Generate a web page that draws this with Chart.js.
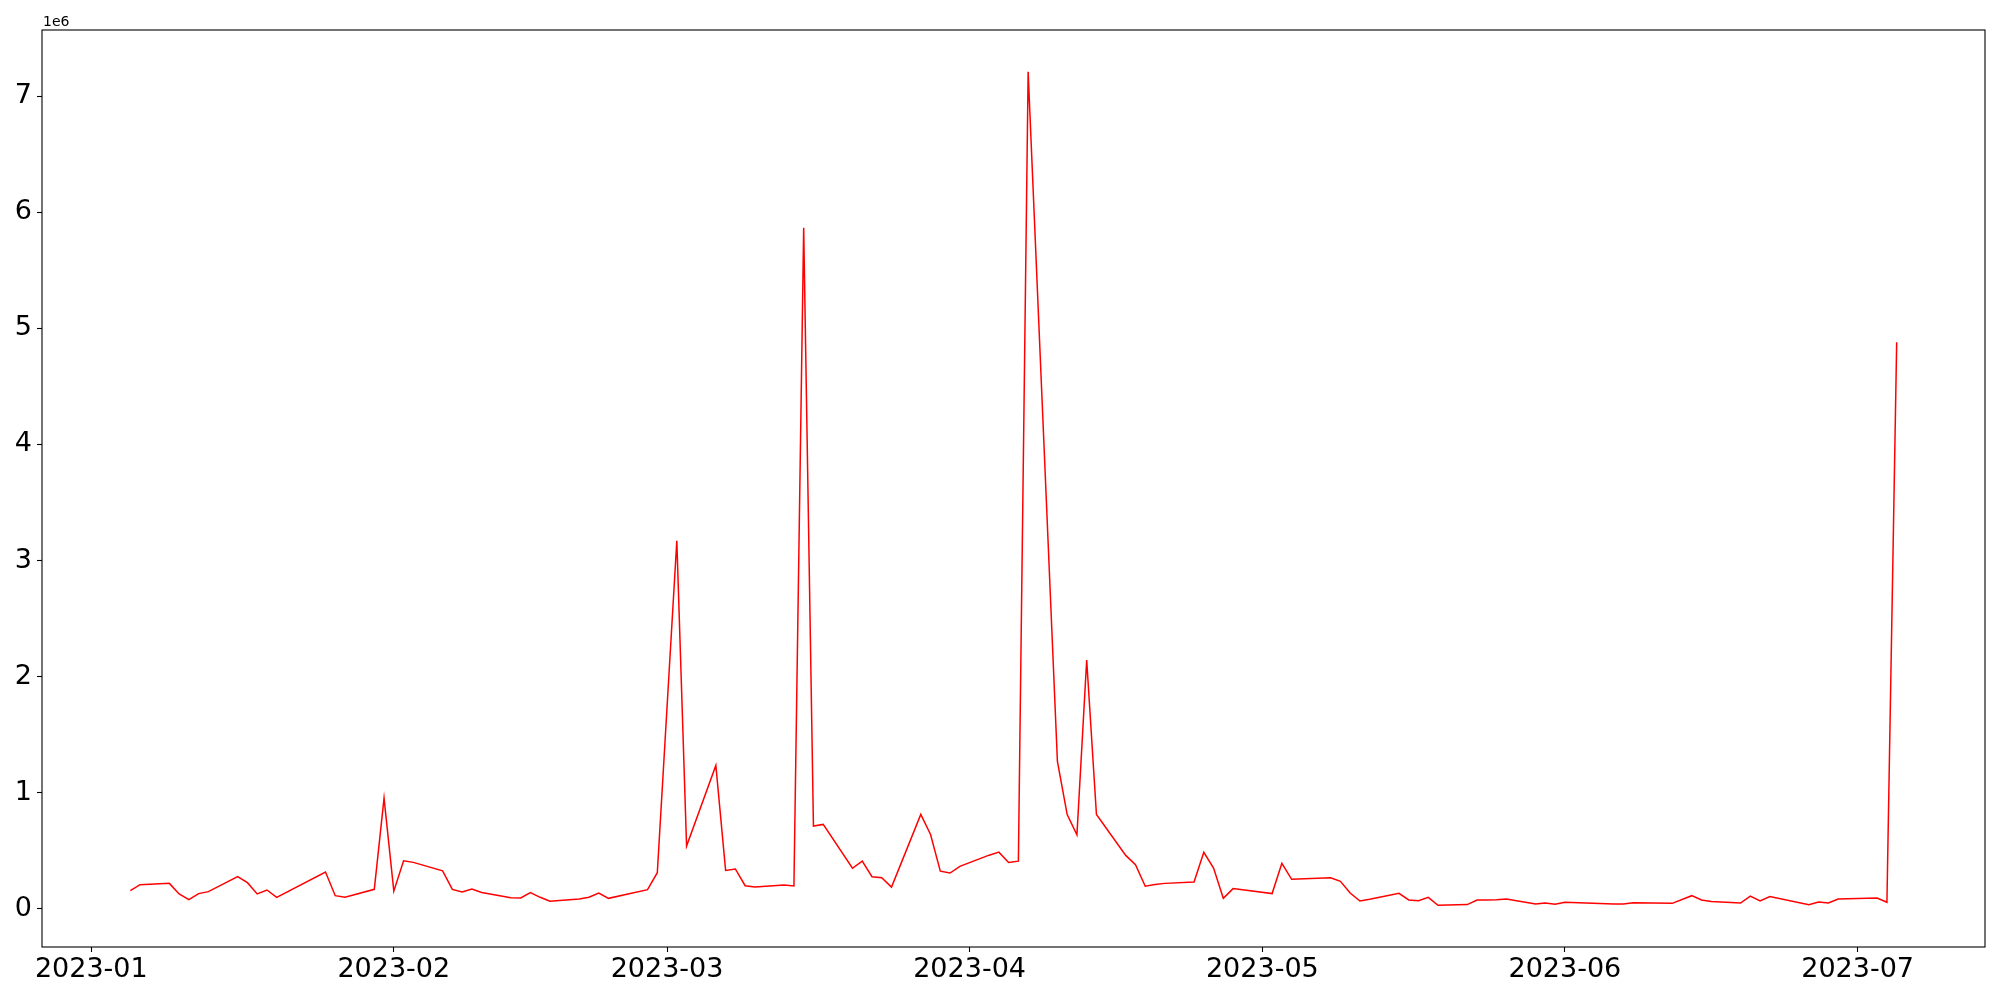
<!DOCTYPE html>
<html>
<head>
<meta charset="utf-8">
<script src="https://cdn.jsdelivr.net/npm/chart.js@4.4.0/dist/chart.umd.min.js"></script>
<style>
  html, body { margin: 0; padding: 0; background: #fff; }
  #wrap { width: 2000px; height: 1000px; }
</style>
</head>
<body>
<div id="wrap"><canvas id="lineChart" width="2000" height="1000"></canvas></div>
<script>
// dates of each reading and the values (raw units, axis shows 1e6)
const dates = [
  '2023-01-05','2023-01-06','2023-01-09','2023-01-10','2023-01-11','2023-01-12','2023-01-13',
  '2023-01-16','2023-01-17','2023-01-18','2023-01-19','2023-01-20','2023-01-25','2023-01-26',
  '2023-01-27','2023-01-30','2023-01-31','2023-02-01','2023-02-02','2023-02-03','2023-02-06',
  '2023-02-07','2023-02-08','2023-02-09','2023-02-10','2023-02-13','2023-02-14','2023-02-15',
  '2023-02-16','2023-02-17','2023-02-20','2023-02-21','2023-02-22','2023-02-23','2023-02-27',
  '2023-02-28','2023-03-02','2023-03-03','2023-03-06','2023-03-07','2023-03-08','2023-03-09',
  '2023-03-10','2023-03-13','2023-03-14','2023-03-15','2023-03-16','2023-03-17','2023-03-20',
  '2023-03-21','2023-03-22','2023-03-23','2023-03-24','2023-03-27','2023-03-28','2023-03-29',
  '2023-03-30','2023-03-31','2023-04-03','2023-04-04','2023-04-05','2023-04-06','2023-04-07',
  '2023-04-10','2023-04-11','2023-04-12','2023-04-13','2023-04-14','2023-04-17','2023-04-18',
  '2023-04-19','2023-04-20','2023-04-21','2023-04-24','2023-04-25','2023-04-26','2023-04-27',
  '2023-04-28','2023-05-02','2023-05-03','2023-05-04','2023-05-08','2023-05-09','2023-05-10',
  '2023-05-11','2023-05-12','2023-05-15','2023-05-16','2023-05-17','2023-05-18','2023-05-19',
  '2023-05-22','2023-05-23','2023-05-24','2023-05-25','2023-05-26','2023-05-29','2023-05-30',
  '2023-05-31','2023-06-01','2023-06-06','2023-06-07','2023-06-08','2023-06-12','2023-06-14',
  '2023-06-15','2023-06-16','2023-06-19','2023-06-20','2023-06-21','2023-06-22','2023-06-26',
  '2023-06-27','2023-06-28','2023-06-29','2023-07-03','2023-07-04','2023-07-05'
];
const values = [
  157000, 208000, 219000, 128000, 79000, 131000, 148000,
  277000, 225000, 128000, 162000, 99000, 317000, 113000,
  99000, 168000, 953000, 152000, 413000, 400000, 327000,
  167000, 145000, 171000, 140000, 95000, 93000, 139000,
  99000, 65000, 84000, 99000, 136000, 90000, 165000,
  311000, 3170000, 541000, 1235000, 331000, 343000, 199000,
  188000, 205000, 197000, 5866000, 713000, 727000, 349000,
  410000, 276000, 267000, 187000, 813000, 640000, 324000,
  308000, 365000, 462000, 488000, 399000, 410000, 7210000,
  1270000, 812000, 637000, 2143000, 812000, 460000, 380000,
  194000, 210000, 219000, 231000, 486000, 351000, 90000,
  174000, 131000, 392000, 254000, 268000, 237000, 136000,
  67000, 82000, 133000, 76000, 70000, 99000, 30000,
  36000, 76000, 76000, 78000, 84000, 41000, 50000,
  39000, 56000, 41000, 41000, 53000, 47000, 113000,
  76000, 62000, 50000, 110000, 67000, 105000, 36000,
  59000, 50000, 84000, 93000, 56000, 4880000
];
const monthTicks = ['2023-01','2023-02','2023-03','2023-04','2023-05','2023-06','2023-07'];
const yTicks = [0, 1, 2, 3, 4, 5, 6, 7];

const DAY = 86400000;
const origin = Date.UTC(2023, 0, 1);
function dayOf(s) {
  const p = s.split('-').map(Number);
  return (Date.UTC(p[0], p[1] - 1, p[2] || 1) - origin) / DAY;
}

const points = dates.map((d, i) => ({ x: dayOf(d), y: values[i] }));
const monthDays = monthTicks.map(dayOf);

// matplotlib-like 5% margins
const xs = points.map(p => p.x), ys = points.map(p => p.y);
const xLo = Math.min(...xs), xHi = Math.max(...xs);
const yLo = Math.min(...ys), yHi = Math.max(...ys);
const xPad = (xHi - xLo) * 0.05, yPad = (yHi - yLo) * 0.05;

const font = 'DejaVu Sans';

const frame = {
  id: 'frame',
  afterDraw(chart) {
    const { ctx, chartArea: a } = chart;
    ctx.save();
    ctx.strokeStyle = '#000';
    ctx.lineWidth = 1.1;
    ctx.strokeRect(a.left, a.top, a.right - a.left, a.bottom - a.top);
    ctx.fillStyle = '#000';
    ctx.font = '14px "' + font + '"';
    ctx.textBaseline = 'alphabetic';
    ctx.textAlign = 'left';
    ctx.fillText('1e6', a.left + 1, a.top - 4);
    ctx.restore();
  }
};

const ctx = document.getElementById('lineChart').getContext('2d');
const lineChart = new Chart(ctx, {
  type: 'line',
  data: {
    datasets: [{
      data: points,
      borderColor: '#ff0000',
      borderWidth: 1.5,
      pointRadius: 0,
      tension: 0,
      fill: false
    }]
  },
  options: {
    responsive: false,
    animation: false,
    layout: { padding: { top: 30, right: 15, left: 0, bottom: 0 } },
    plugins: { legend: { display: false }, tooltip: { enabled: false } },
    scales: {
      x: {
        type: 'linear',
        min: xLo - xPad,
        max: xHi + xPad,
        afterBuildTicks: s => { s.ticks = monthDays.map(v => ({ value: v })); },
        afterFit: s => { s.height = 53; },
        grid: { drawOnChartArea: false, drawTicks: true, tickLength: 5, tickColor: '#000', tickWidth: 1.1 },
        border: { display: false },
        ticks: {
          color: '#000',
          font: { family: font, size: 27 },
          padding: 2,
          maxRotation: 0,
          autoSkip: false,
          callback: (v, i) => monthTicks[i]
        }
      },
      y: {
        type: 'linear',
        min: yLo - yPad,
        max: yHi + yPad,
        afterBuildTicks: s => { s.ticks = yTicks.map(v => ({ value: v * 1e6 })); },
        afterFit: s => { s.width = 42; },
        grid: { drawOnChartArea: false, drawTicks: true, tickLength: 5, tickColor: '#000', tickWidth: 1.1 },
        border: { display: false },
        ticks: {
          color: '#000',
          font: { family: font, size: 27 },
          padding: 5,
          autoSkip: false,
          callback: v => String(Math.round(v / 1e6))
        }
      }
    }
  },
  plugins: [frame]
});
</script>
</body>
</html>
